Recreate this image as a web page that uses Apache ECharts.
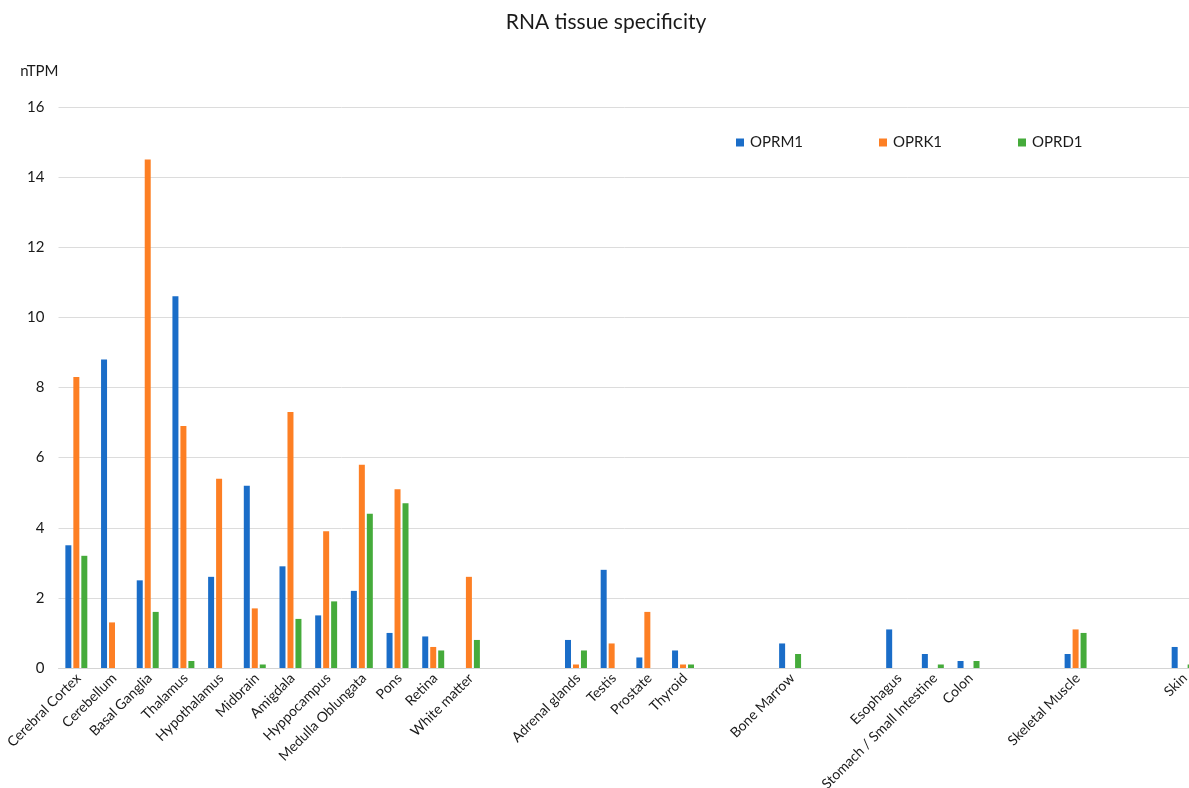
<!DOCTYPE html>
<html>
<head>
<meta charset="utf-8">
<script src="https://cdn.jsdelivr.net/npm/echarts@6/dist/echarts.min.js"></script>
<style>
  html, body { margin: 0; padding: 0; background: #fff; overflow: hidden; }
  #chart { width: 1189px; height: 788px; }
</style>
</head>
<body>
<div id="chart"></div>
<script>
// Tissues; empty strings are spacer slots separating the tissue groups
const tissues = [
  'Cerebral Cortex', 'Cerebellum', 'Basal Ganglia', 'Thalamus', 'Hypothalamus',
  'Midbrain', 'Amigdala', 'Hyppocampus', 'Medulla Oblungata', 'Pons', 'Retina',
  'White matter', '', '', 'Adrenal glands', 'Testis', 'Prostate', 'Thyroid', '', '',
  'Bone Marrow', '', '', 'Esophagus', 'Stomach / Small Intestine', 'Colon', '', '',
  'Skeletal Muscle', '', '', 'Skin'
];

// nTPM per tissue (null = no bar)
const oprm1 = [3.5, 8.8, 2.5, 10.6, 2.6, 5.2, 2.9, 1.5, 2.2, 1.0, 0.9, null, null, null,
  0.8, 2.8, 0.3, 0.5, null, null, 0.7, null, null, 1.1, 0.4, 0.2, null, null, 0.4, null, null, 0.6];
const oprk1 = [8.3, 1.3, 14.5, 6.9, 5.4, 1.7, 7.3, 3.9, 5.8, 5.1, 0.6, 2.6, null, null,
  0.1, 0.7, 1.6, 0.1, null, null, null, null, null, null, null, null, null, null, 1.1, null, null, null];
const oprd1 = [3.2, null, 1.6, 0.2, null, 0.1, 1.4, 1.9, 4.4, 4.7, 0.5, 0.8, null, null,
  0.5, null, null, 0.1, null, null, 0.4, null, null, null, 0.1, 0.2, null, null, 1.0, null, null, 0.1];

const yTicks = [0, 2, 4, 6, 8, 10, 12, 14, 16];

const seriesNames = ['OPRM1', 'OPRK1', 'OPRD1'];
const seriesColors = ['#1a6dc8', '#fd7f24', '#45ab3b'];
const seriesData = [oprm1, oprk1, oprd1];

const FONT = 'Lato, "Open Sans", sans-serif';
const chart = echarts.init(document.getElementById('chart'), null, { renderer: 'canvas' });

const legendLefts = [731, 874, 1013];

chart.setOption({
  animation: false,
  backgroundColor: '#ffffff',
  textStyle: { fontFamily: FONT },
  title: {
    text: 'RNA tissue specificity',
    left: 601,
    top: 7,
    textAlign: 'center',
    textStyle: { fontFamily: FONT, fontSize: 21, fontWeight: 'normal', color: '#1a1a1a' }
  },
  legend: seriesNames.map((name, i) => ({
    data: [name],
    left: legendLefts[i],
    top: 130,
    icon: 'rect',
    itemWidth: 8,
    itemHeight: 8,
    itemGap: 0,
    textStyle: { fontFamily: FONT, fontSize: 15, color: '#1a1a1a', padding: [0, 0, 0, 1] }
  })),
  // plot area runs slightly past the right edge of the canvas
  grid: {
    left: 58.5,
    width: 1142,
    top: 107,
    height: 561,
    containLabel: false,
    outerBoundsMode: 'none'
  },
  xAxis: {
    type: 'category',
    data: tissues,
    axisLine: { show: true, lineStyle: { color: '#d4d4d4', width: 1 } },
    axisTick: { show: false },
    axisLabel: {
      interval: 0,
      rotate: 45,
      margin: 10,
      padding: [0, -3, 0, 0],
      fontFamily: FONT,
      fontSize: 14,
      color: '#1a1a1a'
    }
  },
  yAxis: {
    type: 'value',
    min: yTicks[0],
    max: yTicks[yTicks.length - 1],
    interval: 2,
    name: 'nTPM',
    nameLocation: 'end',
    nameGap: 28,
    nameTextStyle: { fontFamily: FONT, fontSize: 15, color: '#1a1a1a', align: 'right' },
    axisLine: { show: false },
    axisTick: { show: false },
    axisLabel: { fontFamily: FONT, fontSize: 15, color: '#1a1a1a', margin: 14 },
    splitLine: { lineStyle: { color: '#dcdcdc', width: 1 } }
  },
  series: seriesNames.map((name, i) => ({
    name,
    type: 'bar',
    data: seriesData[i],
    barWidth: 6,
    barGap: '33%',
    itemStyle: { color: seriesColors[i] }
  }))
});
</script>
</body>
</html>
